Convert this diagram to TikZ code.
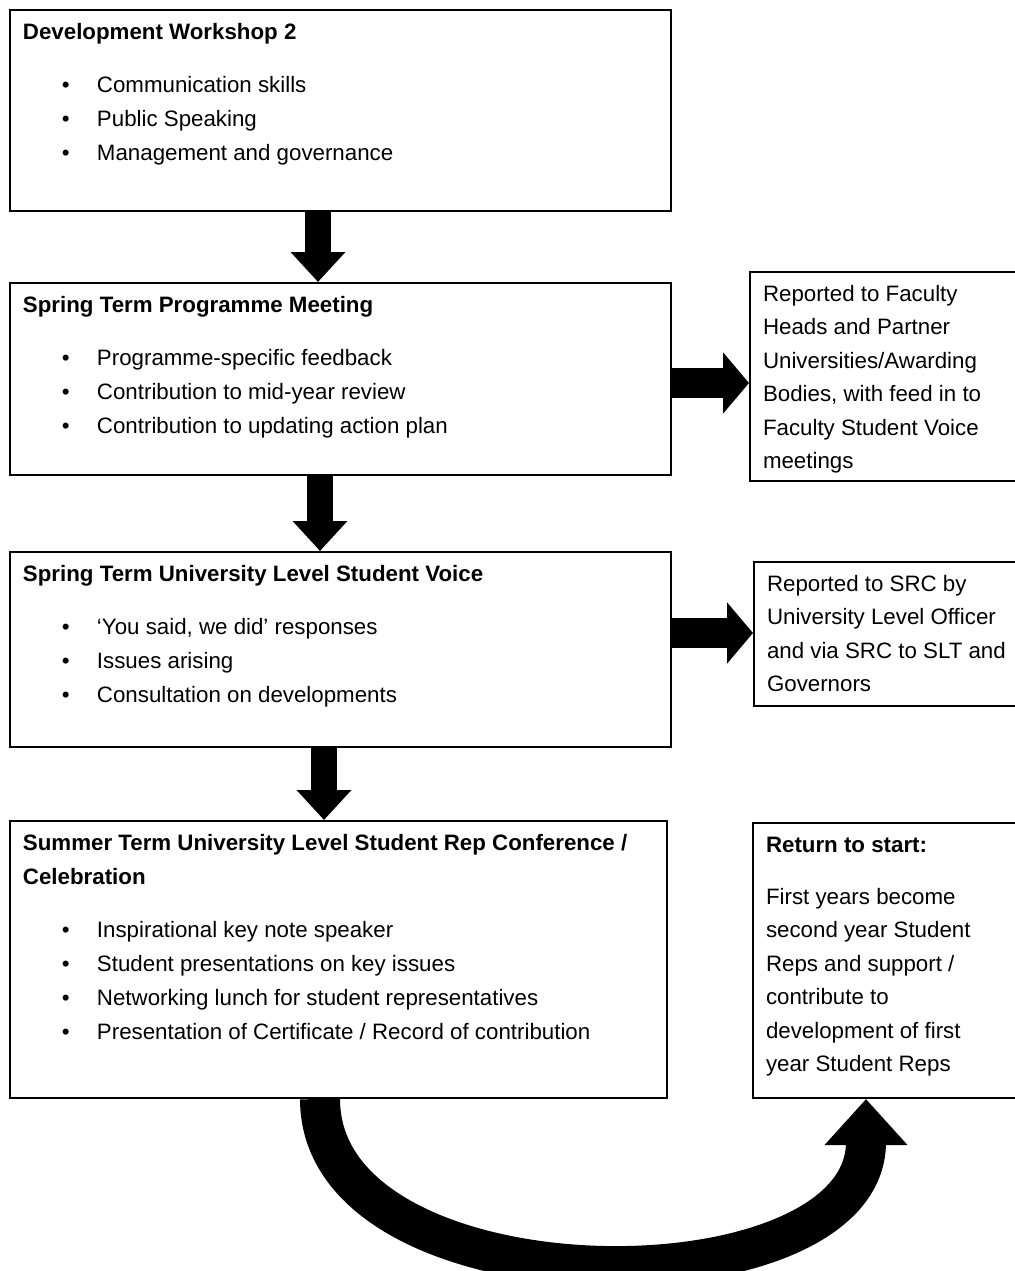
\documentclass[tikz,border=0pt]{standalone}
\usepackage{fontspec}
\setmainfont{Liberation Sans}
\usetikzlibrary{arrows.meta}
\newcommand{\boxtext}[3]{\parbox[c][#2][t]{#1}{\raggedright\strut#3}}
\newcommand{\itm}[1]{\par\hspace*{19.5pt}\makebox[17.5pt][l]{\textbullet}#1}

\begin{document}
\begin{tikzpicture}[
   x=0.5pt,y=-0.5pt,
   font=\fontsize{11.15pt}{17pt}\selectfont,
   box/.style={draw,line width=1pt,anchor=north west,inner xsep=6.5pt,inner ysep=3pt},
   note/.style={box,font=\fontsize{11.15pt}{16.75pt}\selectfont},
   downarr/.style={-{Triangle[width=26.5pt,length=15pt]},line width=13pt},
   sidearr/.style={-{Triangle[width=30pt,length=13pt]},line width=15pt},
   backarr/.style={-{Triangle[width=40pt,length=23pt]},line width=20pt}]
\useasboundingbox (0,0) rectangle (1015,1271);
\node[box] (dev) at (9,9) {\boxtext{317.5pt}{94.5pt}{\textbf{Development Workshop 2}\par\vspace{9.5pt}
  \itm{Communication skills}\itm{Public Speaking}\itm{Management and governance}}};
\node[box] (prog) at (9,282) {\boxtext{317.5pt}{90pt}{\textbf{Spring Term Programme Meeting}\par\vspace{9.5pt}
  \itm{Programme-specific feedback}\itm{Contribution to mid-year review}\itm{Contribution to updating action plan}}};
\node[box] (voice) at (9,551) {\boxtext{317.5pt}{91.5pt}{\textbf{Spring Term University Level Student Voice}\par\vspace{9.5pt}
  \itm{`You said, we did' responses}\itm{Issues arising}\itm{Consultation on developments}}};
\node[box] (summer) at (9,820) {\boxtext{315.5pt}{132.5pt}{\textbf{Summer Term University Level Student Rep Conference /\\ Celebration}\par\vspace{9.5pt}
  \itm{Inspirational key note speaker}\itm{Student presentations on key issues}\itm{Networking lunch for student representatives}\itm{Presentation of Certificate / Record of contribution}}};
\node[note] (fac) at (749,271) {\boxtext{125pt}{98.5pt}{Reported to Faculty\\ Heads and Partner\\ Universities/Awarding\\ Bodies, with feed in to\\ Faculty Student Voice\\ meetings}};
\node[note] (src) at (753,561) {\boxtext{125pt}{66pt}{Reported to SRC by\\ University Level Officer\\ and via SRC to SLT and\\ Governors}};
\node[note] (ret) at (752,822) {\boxtext{125pt}{131.5pt}{\textbf{Return to start:}\par\vspace{9.25pt}
  First years become\\ second year Student\\ Reps and support /\\ contribute to\\ development of first\\ year Student Reps}};
\draw[downarr] ([xshift=154.5pt]dev.south west) -- ([xshift=154.5pt]prog.north west);
\draw[downarr] ([xshift=155.5pt]prog.south west) -- ([xshift=155.5pt]voice.north west);
\draw[downarr] ([xshift=157.5pt]voice.south west) -- ([xshift=157.5pt]summer.north west);
\draw[sidearr] ([yshift=-2pt]prog.east) -- ([yshift=-2pt]prog.east -| fac.west);
\draw[sidearr] ([yshift=8.25pt]voice.east) -- ([yshift=8.25pt]voice.east -| src.west);
\draw[backarr] ([xshift=155.5pt]summer.south west) .. controls +(0,215) and +(0,215) .. ([xshift=57pt]ret.south west);
\end{tikzpicture}
\end{document}
